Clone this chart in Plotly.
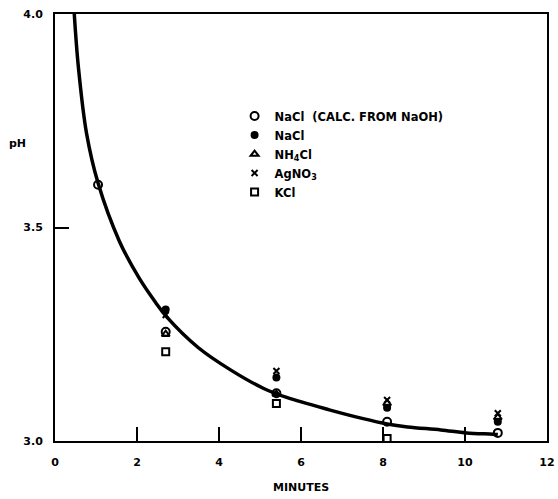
import plotly.graph_objects as go

# Smooth reference curve (minutes, pH)
curve_t = [0.47, 0.57, 0.77, 1.05, 1.57, 2.05, 2.45, 2.73, 3.49, 4.29, 5.09, 5.65, 6.69, 7.49, 8.1, 8.60, 9.41, 10.04, 10.68, 10.8]
curve_ph = [4.0, 3.876, 3.72, 3.604, 3.468, 3.382, 3.325, 3.29, 3.219, 3.166, 3.123, 3.102, 3.073, 3.053, 3.04, 3.033, 3.026, 3.019, 3.016, 3.015]

# Measured points
calc_t = [1.05, 2.7, 5.4, 8.1, 10.8]
calc_ph = [3.60, 3.256, 3.112, 3.045, 3.019]

nacl_t = [2.7, 5.4, 8.1, 10.8]
nacl_ph = [3.308, 3.149, 3.078, 3.045]

nh4cl_t = [2.7, 5.4, 8.1, 10.8]
nh4cl_ph = [3.25, 3.11, 3.088, 3.055]

agno3_t = [2.7, 5.4, 8.1, 10.8]
agno3_ph = [3.295, 3.164, 3.096, 3.065]

kcl_t = [2.7, 5.4, 8.1]
kcl_ph = [3.209, 3.088, 3.006]

x_ticks = [0, 2, 4, 6, 8, 10, 12]
x_tick_labels = ["0", "2", "4", "6", "8", "10", "12"]
y_ticks = [3.0, 3.5, 4.0]
y_tick_labels = ["3.0", "3.5", "4.0"]

FONT = "DejaVu Sans"

fig = go.Figure()

fig.add_trace(go.Scatter(
    x=curve_t, y=curve_ph, mode="lines", line=dict(color="black", width=3.5, shape="spline", smoothing=1.0),
    showlegend=False, hoverinfo="skip"))

fig.add_trace(go.Scatter(
    x=calc_t, y=calc_ph, mode="markers", name="NaCl\u00a0\u00a0(CALC.\u00a0FROM\u00a0NaOH)",
    marker=dict(symbol="circle-open", size=8, color="black", line=dict(width=2))))
fig.add_trace(go.Scatter(
    x=nacl_t, y=nacl_ph, mode="markers", name="NaCl",
    marker=dict(symbol="circle", size=8, color="black")))
fig.add_trace(go.Scatter(
    x=nh4cl_t, y=nh4cl_ph, mode="markers", name="NH<sub>4</sub>Cl",
    marker=dict(symbol="triangle-up-open", size=7, color="black", line=dict(width=2))))
fig.add_trace(go.Scatter(
    x=agno3_t, y=agno3_ph, mode="markers", name="AgNO<sub>3</sub>",
    marker=dict(symbol="x-thin-open", size=6, color="black", line=dict(width=2))))
fig.add_trace(go.Scatter(
    x=kcl_t, y=kcl_ph, mode="markers", name="KCl",
    marker=dict(symbol="square-open", size=7, color="black", line=dict(width=2))))

fig.update_layout(
    width=558, height=499,
    margin=dict(l=54.5, r=3, t=13.5, b=58),
    paper_bgcolor="white", plot_bgcolor="white",
    font=dict(family=FONT, size=11, color="black"),
    showlegend=True,
    legend=dict(x=0.365, y=0.795, xanchor="left", yanchor="top",
                bgcolor="rgba(0,0,0,0)", font=dict(family=FONT, size=11.5, color="black", weight="bold"),
                itemwidth=30, tracegroupgap=0),
    xaxis=dict(range=[0, 12], tickvals=x_ticks, ticktext=x_tick_labels,
               ticks="inside", ticklen=14, tickwidth=1.8, tickcolor="black",
               showline=True, linecolor="black", linewidth=2, mirror=True,
               showgrid=False, zeroline=False, ticklabelstandoff=10,
               ticklabeloverflow="allow",
               tickfont=dict(family=FONT, size=11, color="black", weight="bold")),
    yaxis=dict(range=[3.0, 4.0], tickvals=y_ticks, ticktext=y_tick_labels,
               ticks="inside", ticklen=14, tickwidth=1.8, tickcolor="black",
               showline=True, linecolor="black", linewidth=2, mirror=True,
               showgrid=False, zeroline=False, ticklabelstandoff=8,
               ticklabeloverflow="allow",
               tickfont=dict(family=FONT, size=11, color="black", weight="bold")),
    annotations=[
        dict(text="MINUTES", xref="paper", yref="paper", x=0.5, y=-0.11,
             xanchor="center", yanchor="middle", showarrow=False,
             font=dict(family=FONT, size=11, color="black", weight="bold")),
        dict(text="pH", xref="paper", yref="paper", x=-0.0755, y=0.697,
             xanchor="center", yanchor="middle", showarrow=False,
             font=dict(family=FONT, size=11, color="black", weight="bold")),
    ],
)

fig.write_html("out.html", config={"displayModeBar": False},
               post_script="document.body.style.margin='0';")
